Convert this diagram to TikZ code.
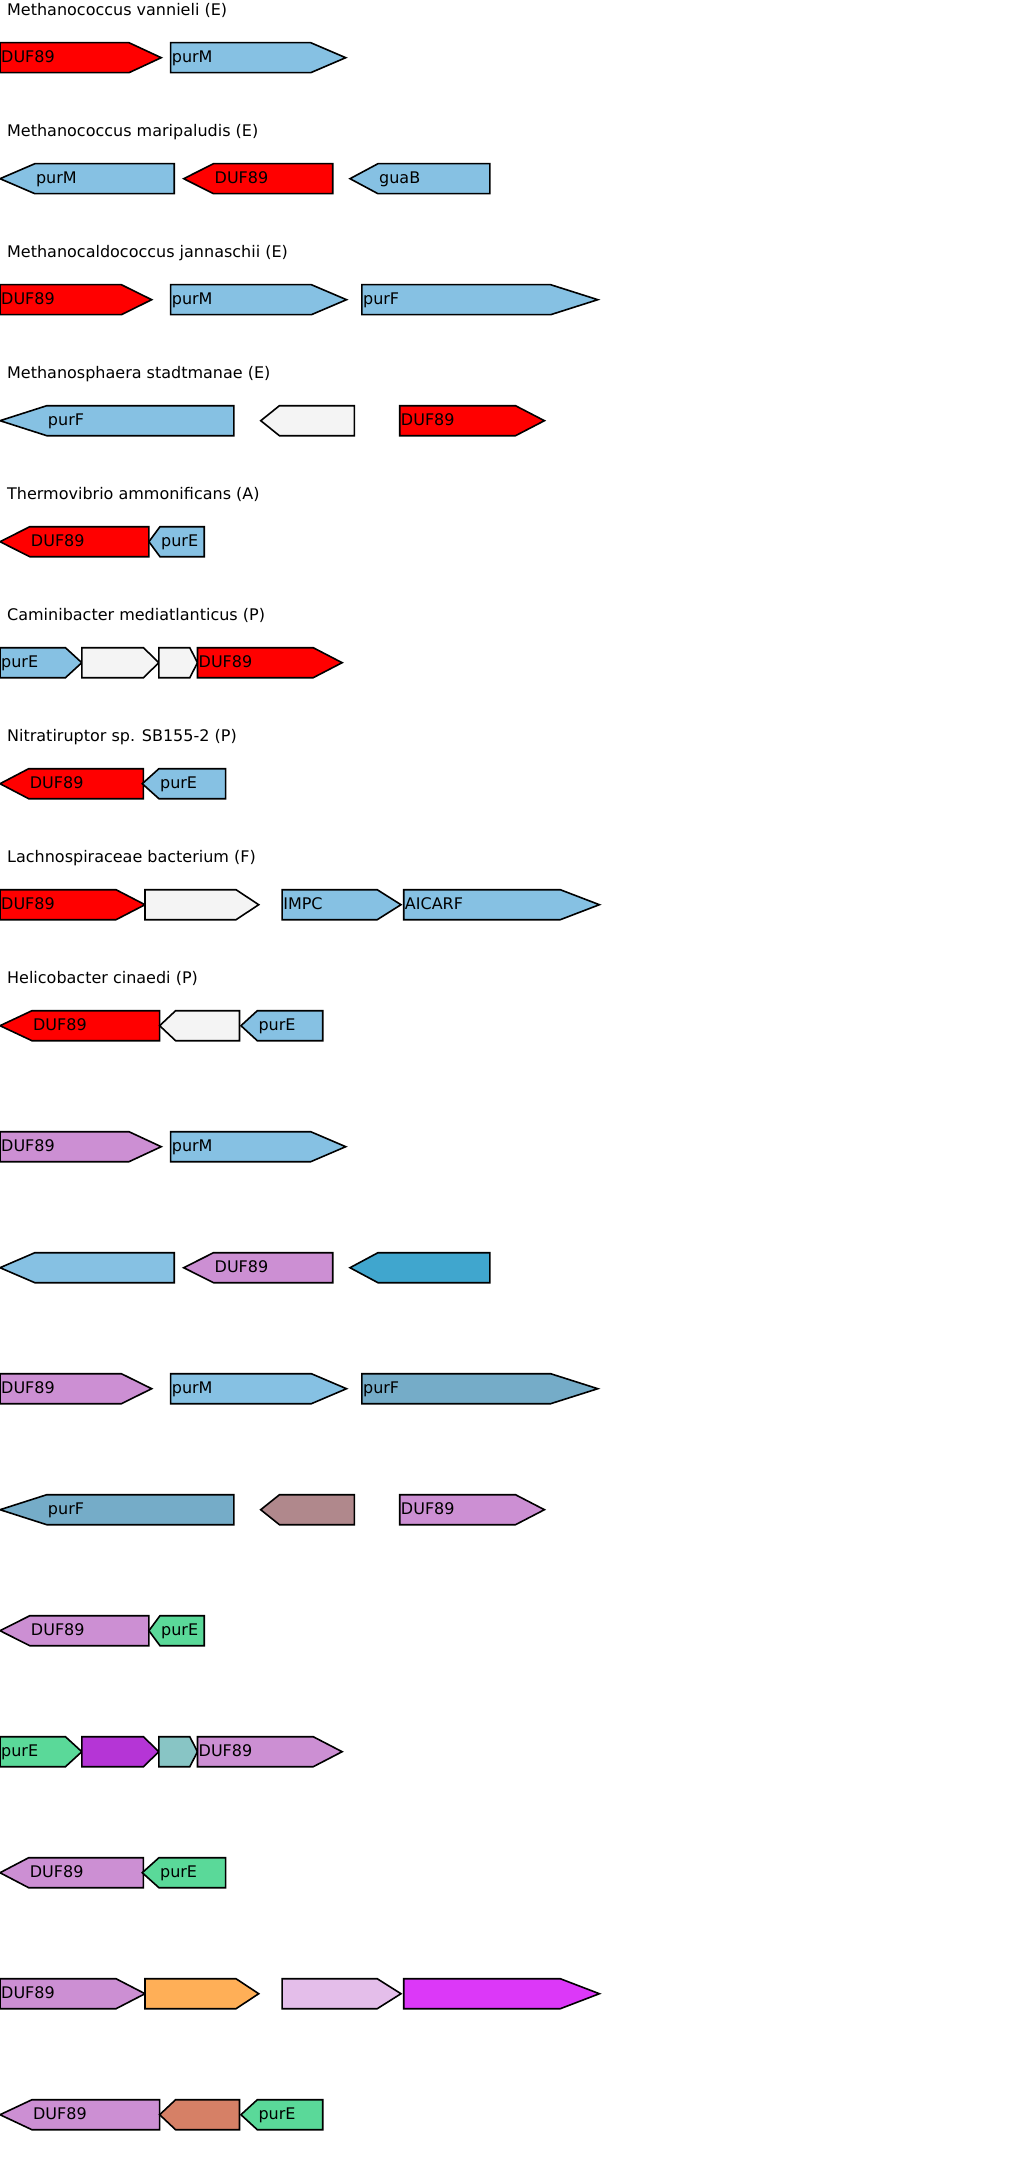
\documentclass[tikz,border=0pt]{standalone}
\usepackage{fontspec}
\setmainfont{DejaVu Sans}
\definecolor{cred}{HTML}{FF0000}
\definecolor{cblue}{HTML}{86C1E3}
\definecolor{cblank}{HTML}{F4F4F4}
\definecolor{cpink}{HTML}{CC8FD3}
\definecolor{cguab}{HTML}{40A6CE}
\definecolor{cpurf}{HTML}{75ACC8}
\definecolor{cmauve}{HTML}{B0888C}
\definecolor{cgreen}{HTML}{5AD999}
\definecolor{cpurple}{HTML}{B535D6}
\definecolor{cteal}{HTML}{88C5C5}
\definecolor{corange}{HTML}{FFAF57}
\definecolor{clpink}{HTML}{E4BEEA}
\definecolor{cmagenta}{HTML}{DC38F8}
\definecolor{cbrown}{HTML}{D68066}
\tikzset{
  gene/.style={draw=black, line width=1.6bp, line join=miter},
  lab/.style={anchor=base west, inner sep=0pt, font=\fontsize{16bp}{19bp}\selectfont},
  ttl/.style={anchor=base west, inner sep=0pt, font=\fontsize{16bp}{19bp}\selectfont},
}
% forward gene: #1 x0, #2 x1, #3 yc, #4 colour
\newcommand\gfwd[4]{%
  \pgfmathsetmacro\hh{0.2*(#2-#1)}%
  \draw[gene, fill=#4] (#1,#3-15) -- (#2-\hh,#3-15) -- (#2,#3) -- (#2-\hh,#3+15) -- (#1,#3+15) -- cycle;}
\newcommand\grev[4]{%
  \pgfmathsetmacro\hh{0.2*(#2-#1)}%
  \draw[gene, fill=#4] (#2,#3-15) -- (#1+\hh,#3-15) -- (#1,#3) -- (#1+\hh,#3+15) -- (#2,#3+15) -- cycle;}
% labels: #1 name, #2 x, #3 yc, #4 text
\newcommand\lfwd[4]{\node[lab] (#1) at (#2+1,#3+5) {#4};}
\newcommand\lrev[5]{% #1 name #2 x0 #3 x1 #4 yc #5 text
  \pgfmathsetmacro\hh{0.2*(#3-#2)}%
  \node[lab] (#1) at (#2+\hh+1,#4+5) {#5};}
\begin{document}
\begin{tikzpicture}[x=0.994bp,y=-1bp]
\useasboundingbox (0,0) rectangle (1024/0.994,2164);
\fill[white] (0,0) rectangle (1024/0.994,2164);
% titles
\node[ttl] (t1) at (7,15.5) {Methanococcus vannieli (E)};
\node[ttl] (t2) at (7,136.5) {Methanococcus maripaludis (E)};
\node[ttl] (t3) at (7,257.5) {Methanocaldococcus jannaschii (E)};
\node[ttl] (t4) at (7,378.5) {Methanosphaera stadtmanae (E)};
\node[ttl] (t5) at (7,499.5) {Thermovibrio ammonificans (A)};
\node[ttl] (t6) at (7,620.5) {Caminibacter mediatlanticus (P)};
\node[ttl] (t7) at (7,741.5) {Nitratiruptor sp. SB155-2 (P)};
\node[ttl] (t8) at (7,862.5) {Lachnospiraceae bacterium (F)};
\node[ttl] (t9) at (7,983.5) {Helicobacter cinaedi (P)};
% row 1
\gfwd{0}{162.2}{57.7}{cred} \lfwd{a1}{0}{57.7}{DUF89}
\gfwd{171.7}{347.8}{57.7}{cblue} \lfwd{a2}{171.7}{57.7}{purM}
% row 2
\grev{0}{175.3}{178.7}{cblue} \lrev{b1}{0}{175.3}{178.7}{purM}
\grev{184.8}{334.7}{178.7}{cred} \lrev{b2}{184.8}{334.7}{178.7}{DUF89}
\grev{352.1}{492.8}{178.7}{cblue} \lrev{b3}{352.1}{492.8}{178.7}{guaB}
% row 3
\gfwd{0}{152.6}{299.7}{cred} \lfwd{c1}{0}{299.7}{DUF89}
\gfwd{171.7}{348.6}{299.7}{cblue} \lfwd{c2}{171.7}{299.7}{purM}
\gfwd{364.1}{601.4}{299.7}{cblue} \lfwd{c3}{364.1}{299.7}{purF}
% row 4
\grev{0}{235.3}{420.7}{cblue} \lrev{d1}{0}{235.3}{420.7}{purF}
\grev{262.3}{356.5}{420.7}{cblank}
\gfwd{402.2}{547.7}{420.7}{cred} \lfwd{d3}{402.2}{420.7}{DUF89}
% row 5
\grev{0}{149.8}{541.7}{cred} \lrev{e1}{0}{149.8}{541.7}{DUF89}
\grev{149.8}{205.5}{541.7}{cblue} \lrev{e2}{149.8}{205.5}{541.7}{purE}
% row 6
\gfwd{0}{82.3}{662.7}{cblue} \lfwd{f1}{0}{662.7}{purE}
\gfwd{82.3}{159.8}{662.7}{cblank}
\gfwd{159.8}{198.7}{662.7}{cblank}
\gfwd{198.7}{344.2}{662.7}{cred} \lfwd{f4}{198.7}{662.7}{DUF89}
% row 7
\grev{0}{144.3}{783.7}{cred} \lrev{g1}{0}{144.3}{783.7}{DUF89}
\grev{143.1}{227}{783.7}{cblue} \lrev{g2}{143.1}{227}{783.7}{purE}
% row 8
\gfwd{0}{145.9}{904.7}{cred} \lfwd{h1}{0}{904.7}{DUF89}
\gfwd{145.9}{260.3}{904.7}{cblank}
\gfwd{283.8}{403.4}{904.7}{cblue} \lfwd{h3}{283.8}{904.7}{IMPC}
\gfwd{406.2}{603}{904.7}{cblue} \lfwd{h4}{406.2}{904.7}{AICARF}
% row 9
\grev{0}{160.6}{1025.7}{cred} \lrev{i1}{0}{160.6}{1025.7}{DUF89}
\grev{160.6}{240.9}{1025.7}{cblank}
\grev{242.4}{324.7}{1025.7}{cblue} \lrev{i3}{242.4}{324.7}{1025.7}{purE}
% row 10
\gfwd{0}{162.2}{1146.7}{cpink} \lfwd{j1}{0}{1146.7}{DUF89}
\gfwd{171.7}{347.8}{1146.7}{cblue} \lfwd{j2}{171.7}{1146.7}{purM}
% row 11
\grev{0}{175.3}{1267.7}{cblue}
\grev{184.8}{334.7}{1267.7}{cpink} \lrev{k2}{184.8}{334.7}{1267.7}{DUF89}
\grev{352.1}{492.8}{1267.7}{cguab}
% row 12
\gfwd{0}{152.6}{1388.7}{cpink} \lfwd{l1}{0}{1388.7}{DUF89}
\gfwd{171.7}{348.6}{1388.7}{cblue} \lfwd{l2}{171.7}{1388.7}{purM}
\gfwd{364.1}{601.4}{1388.7}{cpurf} \lfwd{l3}{364.1}{1388.7}{purF}
% row 13
\grev{0}{235.3}{1509.7}{cpurf} \lrev{m1}{0}{235.3}{1509.7}{purF}
\grev{262.3}{356.5}{1509.7}{cmauve}
\gfwd{402.2}{547.7}{1509.7}{cpink} \lfwd{m3}{402.2}{1509.7}{DUF89}
% row 14
\grev{0}{149.8}{1630.7}{cpink} \lrev{n1}{0}{149.8}{1630.7}{DUF89}
\grev{149.8}{205.5}{1630.7}{cgreen} \lrev{n2}{149.8}{205.5}{1630.7}{purE}
% row 15
\gfwd{0}{82.3}{1751.7}{cgreen} \lfwd{o1}{0}{1751.7}{purE}
\gfwd{82.3}{159.8}{1751.7}{cpurple}
\gfwd{159.8}{198.7}{1751.7}{cteal}
\gfwd{198.7}{344.2}{1751.7}{cpink} \lfwd{o4}{198.7}{1751.7}{DUF89}
% row 16
\grev{0}{144.3}{1872.7}{cpink} \lrev{p1}{0}{144.3}{1872.7}{DUF89}
\grev{143.1}{227}{1872.7}{cgreen} \lrev{p2}{143.1}{227}{1872.7}{purE}
% row 17
\gfwd{0}{145.9}{1993.7}{cpink} \lfwd{q1}{0}{1993.7}{DUF89}
\gfwd{145.9}{260.3}{1993.7}{corange}
\gfwd{283.8}{403.4}{1993.7}{clpink}
\gfwd{406.2}{603}{1993.7}{cmagenta}
% row 18
\grev{0}{160.6}{2114.7}{cpink} \lrev{r1}{0}{160.6}{2114.7}{DUF89}
\grev{160.6}{240.9}{2114.7}{cbrown}
\grev{242.4}{324.7}{2114.7}{cgreen} \lrev{r3}{242.4}{324.7}{2114.7}{purE}
\end{tikzpicture}
\end{document}
